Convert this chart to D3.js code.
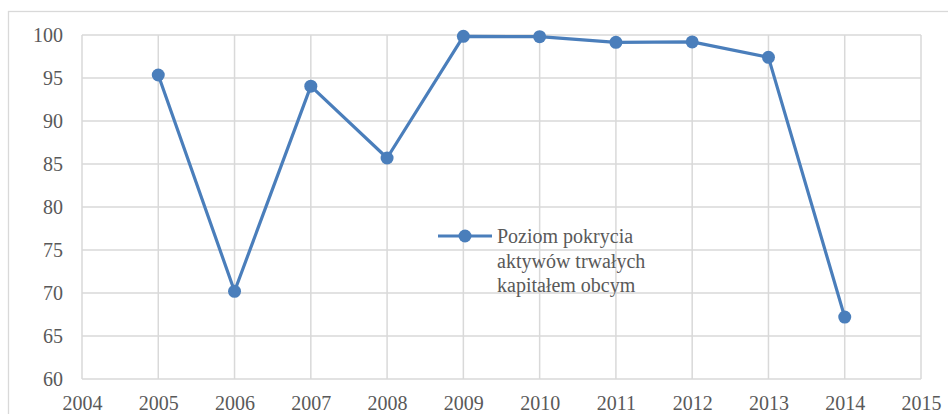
<!DOCTYPE html>
<html>
<head>
<meta charset="utf-8">
<script src="https://cdn.jsdelivr.net/npm/d3@7"></script>
<style>
  body { margin: 0; background: #fff; }
  svg { display: block; }
  svg text { font-family: 'Liberation Serif', 'Times New Roman', 'DejaVu Serif', serif; }
</style>
</head>
<body>
<div id="chart"></div>
<script>
const years = [2005, 2006, 2007, 2008, 2009, 2010, 2011, 2012, 2013, 2014];
const values = [95.35, 70.2, 94.05, 85.7, 99.85, 99.8, 99.15, 99.2, 97.4, 67.2];
const xTicks = [2004, 2005, 2006, 2007, 2008, 2009, 2010, 2011, 2012, 2013, 2014, 2015];
const yTicks = [60, 65, 70, 75, 80, 85, 90, 95, 100];
const legendLines = ['Poziom pokrycia', 'aktywów trwałych', 'kapitałem obcym'];

const width = 948, height = 414;
const plot = { left: 82, top: 35, right: 921, bottom: 379 };
const grid = '#d9d9d9', textColor = '#595959', lineColor = '#4a7ebb';

const svg = d3.select('#chart').append('svg')
  .attr('width', width)
  .attr('height', height);

// outer chart frame (cut off at right / bottom like the original)
svg.append('rect')
  .attr('x', 8.5).attr('y', 11.5)
  .attr('width', width + 10).attr('height', height + 10)
  .attr('fill', 'none').attr('stroke', grid).attr('stroke-width', 1.3);

const x = d3.scaleLinear().domain([2004, 2015]).range([plot.left, plot.right]);
const y = d3.scaleLinear().domain([60, 100]).range([plot.bottom, plot.top]);

// gridlines
svg.append('g')
  .selectAll('line')
  .data(yTicks)
  .enter().append('line')
  .attr('x1', plot.left).attr('x2', plot.right)
  .attr('y1', d => y(d)).attr('y2', d => y(d))
  .attr('stroke', grid).attr('stroke-width', 1.5);

svg.append('g')
  .selectAll('line')
  .data(xTicks)
  .enter().append('line')
  .attr('x1', d => x(d)).attr('x2', d => x(d))
  .attr('y1', plot.top).attr('y2', plot.bottom)
  .attr('stroke', grid).attr('stroke-width', 1.5);

// axis labels
const yAxis = d3.axisLeft(y).tickValues(yTicks).tickSize(0).tickPadding(19);
svg.append('g')
  .attr('transform', `translate(${plot.left},0)`)
  .call(yAxis)
  .attr('font-family', null)
  .call(g => g.select('.domain').remove())
  .selectAll('text')
  .attr('font-size', 20).attr('fill', textColor);

const xAxis = d3.axisBottom(x).tickValues(xTicks).tickFormat(d3.format('d')).tickSize(0).tickPadding(17);
svg.append('g')
  .attr('transform', `translate(0,${plot.bottom})`)
  .call(xAxis)
  .attr('font-family', null)
  .call(g => g.select('.domain').remove())
  .selectAll('text')
  .attr('font-size', 20).attr('fill', textColor);

// data line
const data = years.map((yr, i) => ({ year: yr, value: values[i] }));
svg.append('path')
  .datum(data)
  .attr('d', d3.line().x(d => x(d.year)).y(d => y(d.value)))
  .attr('fill', 'none')
  .attr('stroke', lineColor)
  .attr('stroke-width', 3.2)
  .attr('stroke-linejoin', 'round');

svg.append('g')
  .selectAll('circle')
  .data(data)
  .enter().append('circle')
  .attr('cx', d => x(d.year))
  .attr('cy', d => y(d.value))
  .attr('r', 6.5)
  .attr('fill', lineColor);

// legend
const legend = svg.append('g').attr('transform', 'translate(438,236)');
legend.append('line')
  .attr('x1', 0).attr('x2', 54).attr('y1', 0).attr('y2', 0)
  .attr('stroke', lineColor).attr('stroke-width', 3.2);
legend.append('circle').attr('cx', 27).attr('cy', 0).attr('r', 6.5).attr('fill', lineColor);
legend.append('text')
  .attr('font-size', 20).attr('fill', textColor)
  .selectAll('tspan')
  .data(legendLines)
  .enter().append('tspan')
  .attr('x', 59)
  .attr('y', (d, i) => 7 + i * 24.5)
  .text(d => d);
</script>
</body>
</html>
